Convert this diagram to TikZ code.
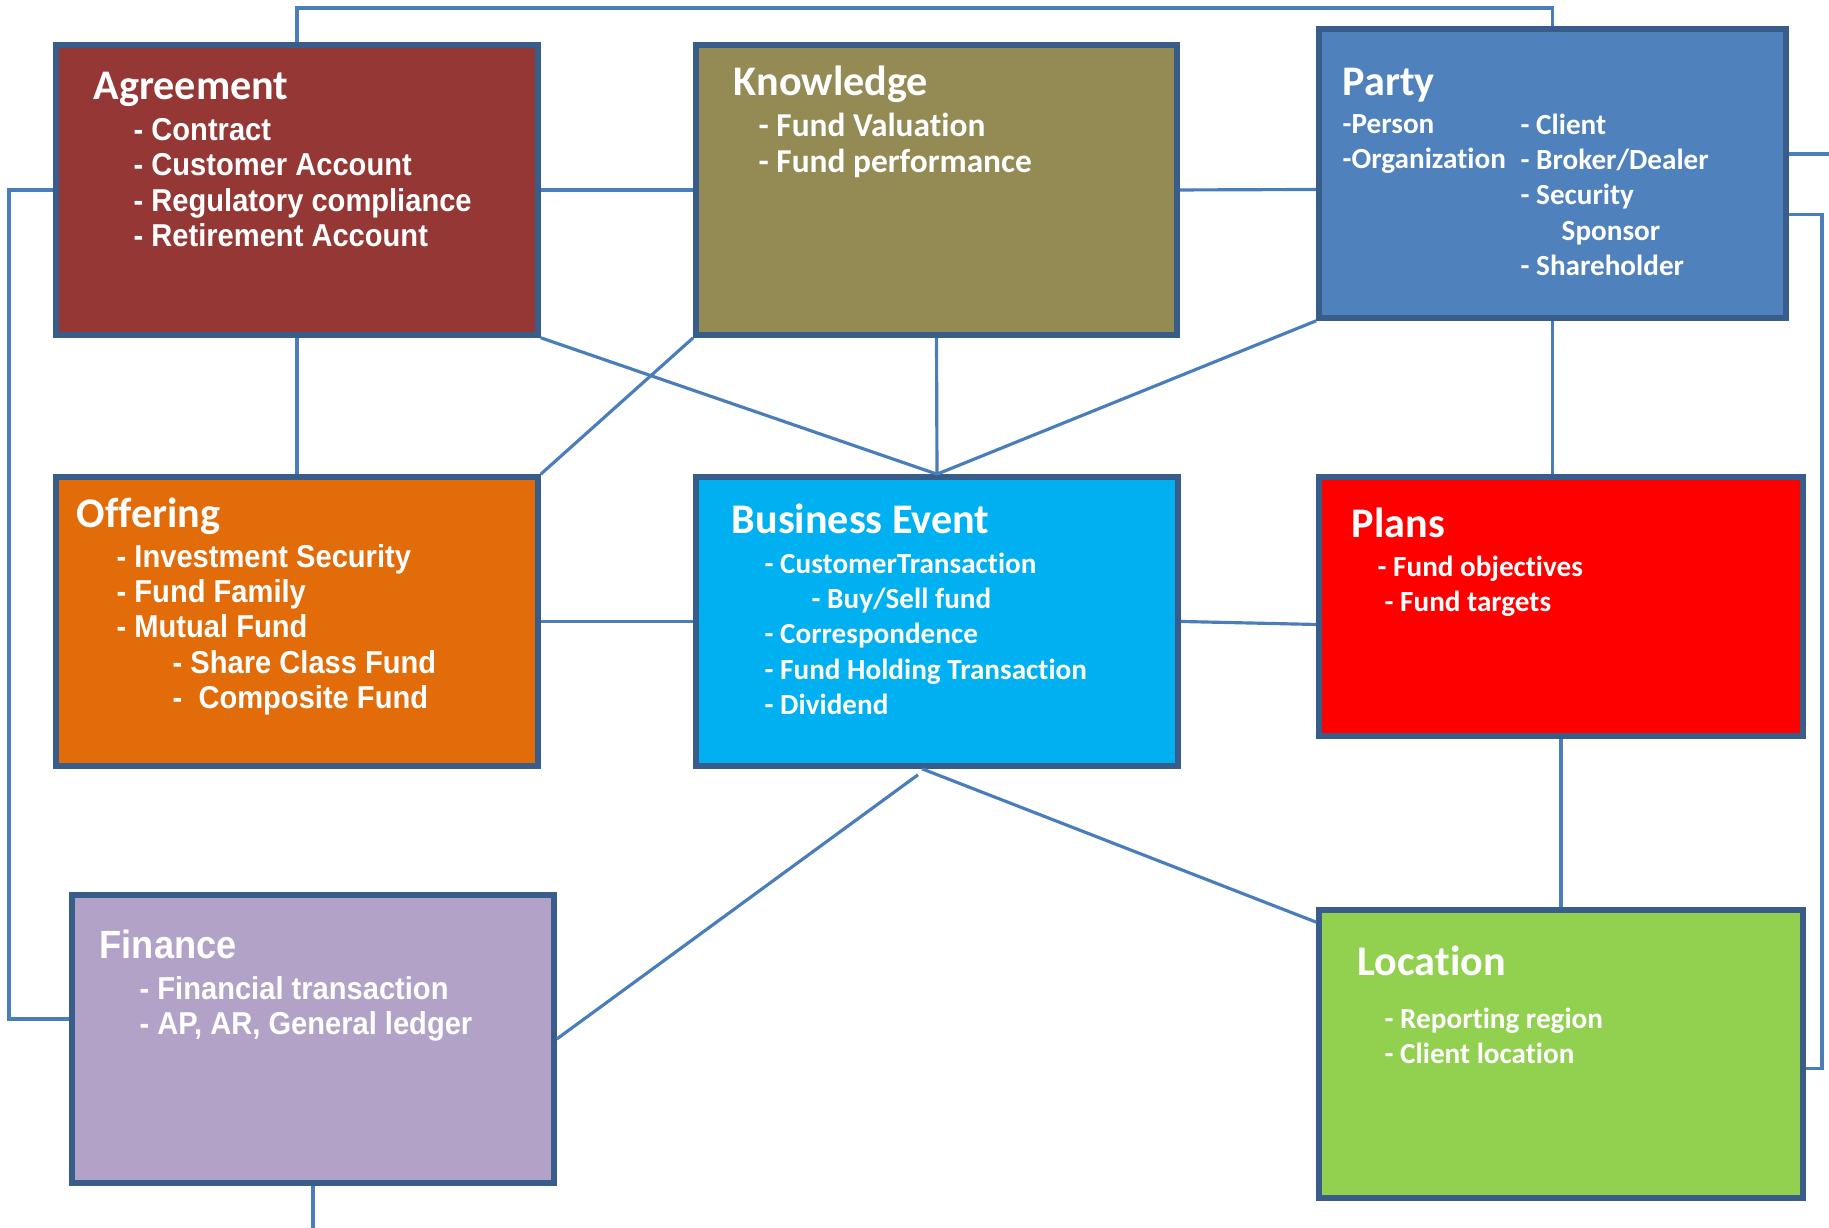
\documentclass[tikz,border=0pt]{standalone}
\usepackage{fontspec}
\setmainfont{Carlito}[Ligatures=NoCommon]
\newfontfamily\narrowfont[FakeStretch=0.92]{Liberation Sans}
\usepackage{xcolor}
\usepackage{tikz}
\definecolor{edgeblue}{HTML}{385D8A}
\definecolor{linkblue}{HTML}{4A7EBB}
\definecolor{agreecol}{HTML}{953735}
\definecolor{knowcol}{HTML}{948A54}
\definecolor{partycol}{HTML}{4F81BD}
\definecolor{offercol}{HTML}{E36C0A}
\definecolor{eventcol}{HTML}{00B0F0}
\definecolor{planscol}{HTML}{FF0000}
\definecolor{financecol}{HTML}{B2A2C7}
\definecolor{locationcol}{HTML}{92D050}
\tikzset{
	entity/.style={rectangle,draw=edgeblue,line width=1.6pt,inner sep=0pt},
	boxtitle/.style={anchor=base west,inner sep=0pt,text=white,font=\bfseries\fontsize{12}{14}\selectfont},
	narrowtitle/.style={boxtitle,font=\narrowfont\bfseries\fontsize{11.2}{14}\selectfont},
	boxitems/.style={anchor=north west,inner sep=0pt,text=white,align=left,font=\bfseries\fontsize{8.3}{10}\selectfont},
	bigitems/.style={boxitems,font=\bfseries\fontsize{9.5}{10.3}\selectfont},
	narrowitems/.style={boxitems,font=\narrowfont\bfseries\fontsize{9}{10}\selectfont},
	link/.style={draw=linkblue,line width=0.9pt},
}

\begin{document}
\begin{tikzpicture}
	\useasboundingbox (0,0) rectangle (18.29,12.28);
	% boxes
	\node (agree) at (2.97,10.38) [entity,fill=agreecol,minimum width=4.82cm,minimum height=2.90cm] {};
	\node (know) at (9.365,10.38) [entity,fill=knowcol,minimum width=4.81cm,minimum height=2.90cm] {};
	\node (party) at (15.525,10.545) [entity,fill=partycol,minimum width=4.67cm,minimum height=2.89cm] {};
	\node (offer) at (2.97,6.065) [entity,fill=offercol,minimum width=4.82cm,minimum height=2.89cm] {};
	\node (event) at (9.37,6.065) [entity,fill=eventcol,minimum width=4.82cm,minimum height=2.89cm] {};
	\node (plans) at (15.61,6.215) [entity,fill=planscol,minimum width=4.84cm,minimum height=2.59cm] {};
	\node (fin) at (3.13,1.89) [entity,fill=financecol,minimum width=4.82cm,minimum height=2.88cm] {};
	\node (loc) at (15.61,1.74) [entity,fill=locationcol,minimum width=4.84cm,minimum height=2.88cm] {};

	% texts
	\node (agreetitle) at (0.93,11.28) [boxtitle] {Agreement};
	\node (agreeitems) at (1.33,11.10) [narrowitems] {- Contract\\- Customer Account\\- Regulatory compliance\\- Retirement Account};
	\node (knowtitle) at (7.33,11.32) [boxtitle] {Knowledge};
	\node (knowitems) at (7.58,11.16) [bigitems] {- Fund Valuation\\- Fund performance};
	\node (partytitle) at (13.42,11.32) [boxtitle] {Party};
	\node (partyleft) at (13.42,11.145) [boxitems] {-Person\\-Organization};
	\node (partyright) at (15.2,11.145) [boxitems] {- Client\\- Broker/Dealer\\- Security\\\hspace*{0.41cm}Sponsor\\- Shareholder};
	\node (offertitle) at (0.76,7.00) [boxtitle] {Offering};
	\node (offeritems) at (1.16,6.84) [narrowitems] {- Investment Security\\- Fund Family\\- Mutual Fund\\\hspace*{0.56cm}- Share Class Fund\\\hspace*{0.56cm}-\ \ Composite Fund};
	\node (eventtitle) at (7.31,6.94) [boxtitle] {Business Event};
	\node (eventitems) at (7.64,6.755) [boxitems] {- CustomerTransaction\\\hspace*{0.47cm}- Buy/Sell fund\\- Correspondence\\- Fund Holding Transaction\\- Dividend};
	\node (planstitle) at (13.51,6.90) [boxtitle] {Plans};
	\node (plansitems) at (13.77,6.725) [boxitems] {- Fund objectives\\\hspace*{0.07cm}- Fund targets};
	\node (fintitle) at (0.99,2.69) [narrowtitle] {Finance};
	\node (finitems) at (1.39,2.52) [narrowitems] {- Financial transaction\\- AP, AR, General ledger};
	\node (loctitle) at (13.57,2.52) [boxtitle] {Location};
	\node (locitems) at (13.84,2.205) [boxitems] {- Reporting region\\- Client location};

	% rails
	\coordinate (toprail) at (9,12.2);
	\coordinate (leftrail) at (0.09,6);
	\coordinate (rightrail) at (18.22,6);
	\coordinate (rightexit) at (18.29,10.74);
	\coordinate (bottomexit) at (3.13,0);

	% links
	\draw [link] (agree.north) |- (toprail) -| (party.north);
	\draw [link] (agree.west) -| (leftrail) |- ([yshift=0.2cm]fin.west);
	\draw [link] ([yshift=-0.41cm]party.east) -| (rightrail) |- ([yshift=-0.145cm]loc.east);
	\draw [link] ([yshift=0.195cm]party.east) -- (rightexit);
	\draw [link] (agree.east) -- (know.west);
	\draw [link] (know.east) -- ([yshift=-0.16cm]party.west);
	\draw [link] (agree.south) -- (offer.north);
	\draw [link] (agree.south east) -- (event.north);
	\draw [link] (know.south) -- (event.north);
	\draw [link] (party.south west) -- (event.north);
	\draw [link] (know.south west) -- (offer.north east);
	\draw [link] (party.south) -- (party.south |- plans.north);
	\draw [link] (offer.east) -- (event.west);
	\draw [link] (event.east) -- ([yshift=-0.18cm]plans.west);
	\draw [link] ([xshift=-0.19cm,yshift=-0.06cm]event.south) -- (fin.east);
	\draw [link] ([xshift=-0.15cm]event.south) -- ([yshift=-0.15cm]loc.north west);
	\draw [link] (plans.south) -- (loc.north);
	\draw [link] (fin.south) -- (bottomexit);
\end{tikzpicture}
\end{document}
